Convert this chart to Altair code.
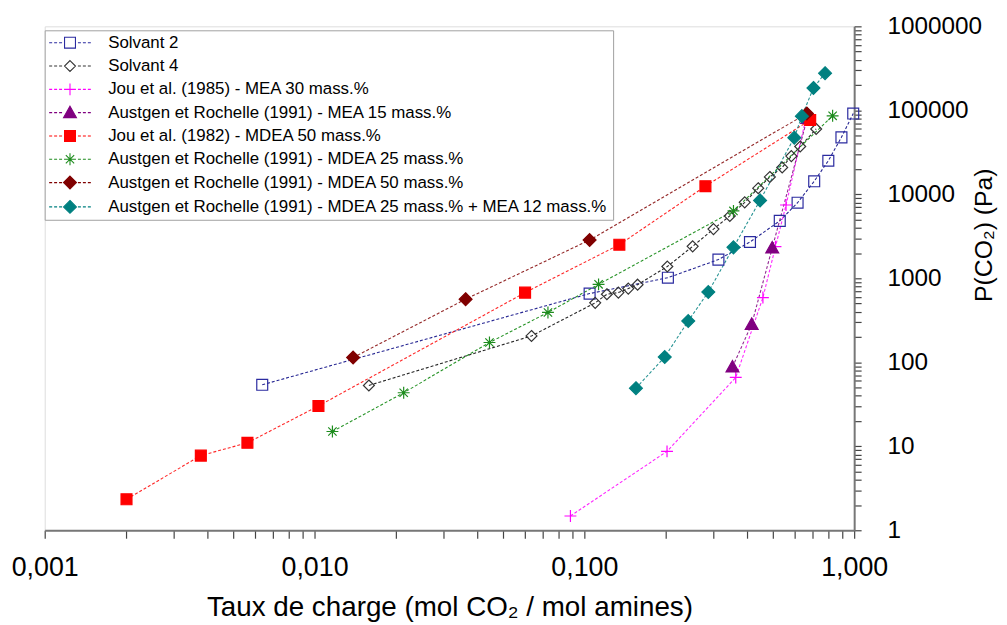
import altair as alt
import pandas as pd

# ---------------- data ----------------
series_names = [
    "Solvant 2",
    "Solvant 4",
    "Jou et al. (1985) - MEA 30 mass.%",
    "Austgen et Rochelle (1991) - MEA 15 mass.%",
    "Jou et al. (1982) - MDEA 50 mass.%",
    "Austgen et Rochelle (1991) - MDEA 25 mass.%",
    "Austgen et Rochelle (1991) - MDEA 50 mass.%",
    "Austgen et Rochelle (1991) - MDEA 25 mass.% + MEA 12 mass.%",
]

s2_x = [0.0064, 0.1046, 0.204, 0.314, 0.411, 0.530, 0.617, 0.711, 0.802, 0.897, 0.992]
s2_y = [54, 658, 1016, 1671, 2705, 4827, 7943, 14300, 25100, 47700, 91600]

s4_x = [0.0159, 0.0637, 0.1097, 0.1212, 0.1337, 0.1455, 0.1575, 0.203, 0.252, 0.301,
        0.346, 0.393, 0.441, 0.487, 0.541, 0.585, 0.631, 0.723]
s4_y = [53, 206, 510, 646, 676, 754, 840, 1381, 2400, 3853,
        5530, 8020, 11830, 16100, 20900, 28500, 37100, 60000]

mea30_x = [0.0888, 0.2025, 0.364, 0.459, 0.511, 0.559, 0.665]
mea30_y = [1.48, 8.7, 66, 590, 2380, 7460, 84000]

mea15_x = [0.354, 0.417, 0.497, 0.670]
mea15_y = [88, 283, 2300, 80000]

jou82_x = [0.00201, 0.00379, 0.00564, 0.01034, 0.0603, 0.1348, 0.281, 0.687]
jou82_y = [2.34, 7.75, 11.0, 30.2, 676, 2513, 12500, 76600]

mdea25_x = [0.01165, 0.0214, 0.0445, 0.0733, 0.1129, 0.357, 0.832]
mdea25_y = [15.0, 43.4, 172, 392, 847, 6337, 86100]

mdea50_x = [0.0139, 0.0363, 0.1046, 0.668]
mdea50_y = [114, 564, 2856, 91600]

mix_x = [0.1553, 0.1986, 0.2427, 0.288, 0.357, 0.448, 0.600, 0.640, 0.7065, 0.780]
mix_y = [49.2, 115.5, 310, 687, 2336, 8470, 47300, 85300, 184500, 277000]

all_x = [s2_x, s4_x, mea30_x, mea15_x, jou82_x, mdea25_x, mdea50_x, mix_x]
all_y = [s2_y, s4_y, mea30_y, mea15_y, jou82_y, mdea25_y, mdea50_y, mix_y]

x_decades = [0.001, 0.01, 0.1, 1.0]
y_decades = [1, 10, 100, 1000, 10000, 100000, 1000000]

# ---------------- styles ----------------
line_colors = ["#000080", "#000000", "#FF00FF", "#800080", "#FF0000", "#008000", "#800000", "#008080"]
marker_colors = ["#2B2BA0", "#333333", "#FF00FF", "#800080", "#FF0000", "#1E8C1E", "#800000", "#008080"]
marker_fills = ["transparent", "transparent", "transparent", "#800080", "#FF0000",
                "transparent", "#800000", "#008080"]


def marker_path(kind, unit):
    def s(v):
        return f"{v / unit:.3f}"
    if kind == "square":
        h = 5.5
        return f"M{s(-h)},{s(-h)}H{s(h)}V{s(h)}H{s(-h)}Z"
    if kind == "diamond_small":
        h = 5.5
        return f"M0,{s(-h)}L{s(h)},0L0,{s(h)}L{s(-h)},0Z"
    if kind == "diamond":
        h = 6.5
        return f"M0,{s(-h)}L{s(h)},0L0,{s(h)}L{s(-h)},0Z"
    if kind == "plus":
        h = 6
        return f"M{s(-h)},0H{s(h)}M0,{s(-h)}V{s(h)}"
    if kind == "triangle":
        return f"M0,{s(-6.5)}L{s(6.5)},{s(5)}H{s(-6.5)}Z"
    if kind == "star":
        h = 6
        d = 4.2
        return (f"M{s(-h)},0H{s(h)}M0,{s(-h)}V{s(h)}"
                f"M{s(-d)},{s(-d)}L{s(d)},{s(d)}M{s(-d)},{s(d)}L{s(d)},{s(-d)}")
    return ""


marker_kinds = ["square", "diamond_small", "plus", "triangle", "square", "star", "diamond", "diamond"]

POINT_SIZE = 144  # unit = 6 px
LEG_SIZE = 196    # unit = 7 px

point_shapes = [marker_path(k, 6.0) for k in marker_kinds]


def dashes(unit):
    segs = []
    for start in [8.0, 13.0, 18.0]:
        a, b = start, start + 3.0
        segs.append(f"M{-b / unit:.3f},0H{-a / unit:.3f}")
        segs.append(f"M{a / unit:.3f},0H{b / unit:.3f}")
    return "".join(segs)


legend_shapes = [marker_path(k, 7.0) + dashes(7.0) for k in marker_kinds]

rows = []
for i, name in enumerate(series_names):
    for xv, yv in zip(all_x[i], all_y[i]):
        rows.append({"series": name, "x": xv, "y": yv, "k": i})
df = pd.DataFrame(rows)

x_vals = [m * d for d in x_decades[:-1] for m in range(1, 10)] + [1.0]
y_vals = [m * d for d in y_decades[:-1] for m in range(1, 10)] + [1000000]

FONT = "Liberation Sans"

x_enc = alt.X(
    "x:Q",
    scale=alt.Scale(type="log", domain=[0.001, 1]),
    axis=alt.Axis(
        values=x_vals,
        labelExpr="abs(log(datum.value)/LN10 - round(log(datum.value)/LN10)) < 1e-6 ? replace(format(datum.value, '.3f'), '.', ',') : ''",
        labelOverlap=False,
        labelFlush=False,
        labelFont=FONT, labelFontSize=27, labelColor="black",
        labelPadding=17,
        tickSize=8, tickColor="#444444", tickWidth=1.2,
        domainColor="#777777", domainWidth=2,
        grid=False,
        title="Taux de charge (mol CO\u2082 / mol amines)",
        titleFont=FONT, titleFontSize=28, titleFontWeight="normal", titleColor="black",
        titleY=86, titleBaseline="alphabetic",
    ),
)
y_enc = alt.Y(
    "y:Q",
    scale=alt.Scale(type="log", domain=[1, 1000000]),
    axis=alt.Axis(
        orient="right",
        values=y_vals,
        labelExpr="abs(log(datum.value)/LN10 - round(log(datum.value)/LN10)) < 1e-6 ? format(datum.value, 'd') : ''",
        labelOverlap=False,
        labelFlush=False,
        labelFont=FONT, labelFontSize=24.5, labelColor="black",
        labelPadding=26,
        tickSize=7, tickColor="#444444", tickWidth=1.2,
        domainColor="#777777", domainWidth=2,
        grid=False,
        title="P(CO\u2082) (Pa)",
        titleFont=FONT, titleFontSize=25, titleFontWeight="normal", titleColor="black",
        titleAngle=270, titleX=130, titleY=210, titleBaseline="middle", titleAlign="center",
    ),
)

lines = alt.Chart(df).mark_line(strokeDash=[3, 2], strokeWidth=1.1, opacity=0.85).encode(
    x=x_enc,
    y=y_enc,
    color=alt.Color("series:N", scale=alt.Scale(domain=series_names, range=line_colors), legend=None),
    order="x:Q",
)

points = alt.Chart(df).mark_point(size=POINT_SIZE, strokeWidth=1.2, opacity=1).encode(
    x=x_enc,
    y=y_enc,
    shape=alt.Shape("series:N", scale=alt.Scale(domain=series_names, range=point_shapes), legend=None),
    stroke=alt.Stroke("series:N", scale=alt.Scale(domain=series_names, range=marker_colors), legend=None),
    fill=alt.Fill("series:N", scale=alt.Scale(domain=series_names, range=marker_fills), legend=None),
)

leg = alt.Legend(
    title=None, orient="none", legendX=0, legendY=4,
    padding=4, strokeColor="#A0A0A0", fillColor="white",
    labelFont=FONT, labelFontSize=17, labelColor="black", labelLimit=0,
    symbolSize=LEG_SIZE, symbolStrokeWidth=1.1, symbolOpacity=1,
    symbolOffset=13, labelOffset=30, rowPadding=5.5,
)

legend_layer = alt.Chart(df).transform_filter("false").mark_point(
    size=LEG_SIZE, strokeWidth=1.1, opacity=1
).encode(
    x=x_enc,
    y=y_enc,
    shape=alt.Shape("series:N", scale=alt.Scale(domain=series_names, range=legend_shapes), legend=leg),
    stroke=alt.Stroke("series:N", scale=alt.Scale(domain=series_names, range=marker_colors), legend=leg),
    fill=alt.Fill("series:N", scale=alt.Scale(domain=series_names, range=marker_fills), legend=leg),
)

chart = alt.layer(lines, points, legend_layer).resolve_scale(
    shape="independent", stroke="independent", fill="independent"
).properties(
    width=816,
    height=508,
    padding={"left": 37, "top": 16, "right": 146, "bottom": 93},
    autosize=alt.AutoSizeParams(type="none"),
).configure_view(stroke=None).configure(background="white")

chart.save("out.html", embed_options={"renderer": "svg", "actions": False})
